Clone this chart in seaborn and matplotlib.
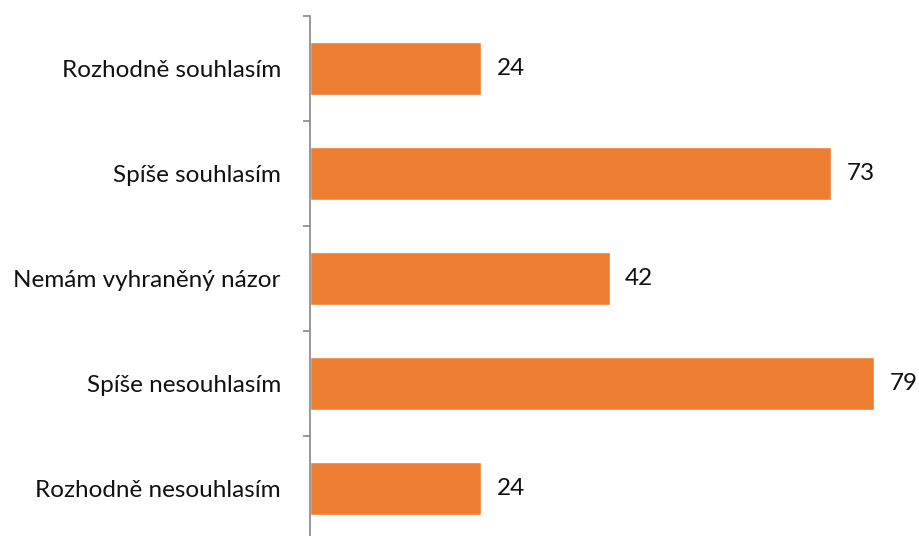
import matplotlib
matplotlib.use("Agg")
import matplotlib.pyplot as plt
import seaborn as sns
import pandas as pd

categories = ["Rozhodně souhlasím", "Spíše souhlasím", "Nemám vyhraněný názor",
              "Spíše nesouhlasím", "Rozhodně nesouhlasím"]
values = [24, 73, 42, 79, 24]

df = pd.DataFrame({"cat": categories, "val": values})

sns.set_style("white")
plt.rcParams["font.family"] = ["Lato", "DejaVu Sans"]

fig = plt.figure(figsize=(9.2, 5.36), dpi=100)
ax = fig.add_axes([310 / 920, -5 / 536, 610 / 920, 525 / 536])

sns.barplot(data=df, x="val", y="cat", color="#ED7D31", saturation=1,
            width=0.5, orient="h", ax=ax)

ax.set_xlim(0, 610 / 7.14)
ax.set_ylim(4.5, -0.5)
ax.set_xlabel("")
ax.set_ylabel("")
ax.set_xticks([])

for s in ["top", "right", "bottom"]:
    ax.spines[s].set_visible(False)
ax.spines["left"].set_color("#868686")
ax.spines["left"].set_linewidth(1.2)

fs = 17.5
# category labels at centers, tick marks at boundaries
ax.set_yticks(range(len(categories)))
ax.set_yticklabels(categories, fontsize=fs, color="#111111")
ax.tick_params(axis="y", which="major", left=False, length=0, pad=21)
ax.set_yticks([i - 0.5 for i in range(len(categories) + 1)], minor=True)
ax.tick_params(axis="y", which="minor", left=True, length=5, width=1.2,
               color="#868686", direction="out")

for i, v in enumerate(values):
    ax.annotate(str(v), xy=(v, i), xytext=(11, 0), textcoords="offset points",
                va="center", ha="left", fontsize=fs, color="#111111")

fig.savefig("out.png", dpi=100)
